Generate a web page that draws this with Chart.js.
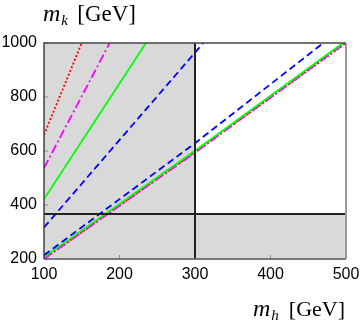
<!DOCTYPE html>
<html>
<head>
<meta charset="utf-8">
<script src="https://cdn.jsdelivr.net/npm/chart.js@4/dist/chart.umd.min.js"></script>
<style>
  body { margin: 0; background: #fff; }
  #wrap { width: 360px; height: 327px; }
</style>
</head>
<body>
<div id="wrap"><canvas id="c"></canvas></div>
<script>
// axis ticks
const xTicks = [100, 200, 300, 400, 500];
const yTicks = [200, 400, 600, 800, 1000];

// excluded region limits
const mhLimit = 300;
const mkLimit = 367;

// upper family of curves (x = m_h, y = m_k)
const redUpX = [100, 150];
const redUpY = [660, 1000];
const magUpX = [100, 187];
const magUpY = [537, 1000];
const greenUpX = [100, 235];
const greenUpY = [422, 1000];
const blueUpX = [100, 311];
const blueUpY = [317, 1000];

// lower family of curves
const blueLoX = [100, 300, 470];
const blueLoY = [214, 629, 1000];
const greenLoX = [100, 300, 496];
const greenLoY = [207, 601, 1000];
const magLoX = [100, 300, 499];
const magLoY = [201, 594, 1000];
const redLoX = [100, 300, 500];
const redLoY = [200, 596, 1000];

function pts(xs, ys) {
    return xs.map((x, i) => ({ x: x, y: ys[i] }));
}

function line(xs, ys, color, dash) {
    return {
        data: pts(xs, ys),
        borderColor: color,
        borderWidth: 1.8,
        borderDash: dash,
        pointRadius: 0,
        fill: false,
        tension: 0
    };
}

// gray shading, frame, limit lines and titles
const decor = {
    id: 'decor',
    beforeDatasetsDraw(chart) {
        const ctx = chart.ctx;
        const xs = chart.scales.x, ys = chart.scales.y;
        const a = chart.chartArea;
        const xl = xs.getPixelForValue(mhLimit);
        const yl = ys.getPixelForValue(mkLimit);
        ctx.save();
        ctx.fillStyle = '#d9d9d9';
        ctx.fillRect(a.left, a.top, xl - a.left, a.bottom - a.top);
        ctx.fillRect(xl, yl, a.right - xl, a.bottom - yl);
        // small inward ticks
        ctx.strokeStyle = '#888';
        ctx.lineWidth = 1;
        xTicks.forEach(v => {
            const p = xs.getPixelForValue(v);
            ctx.beginPath();
            ctx.moveTo(p, a.bottom);
            ctx.lineTo(p, a.bottom - 4);
            ctx.stroke();
        });
        yTicks.forEach(v => {
            const p = ys.getPixelForValue(v);
            ctx.beginPath();
            ctx.moveTo(a.left, p);
            ctx.lineTo(a.left + 4, p);
            ctx.stroke();
        });
        ctx.restore();
    },
    afterDatasetsDraw(chart) {
        const ctx = chart.ctx;
        const xs = chart.scales.x, ys = chart.scales.y;
        const a = chart.chartArea;
        const xl = xs.getPixelForValue(mhLimit);
        const yl = ys.getPixelForValue(mkLimit);
        ctx.save();
        ctx.strokeStyle = '#222';
        ctx.lineWidth = 2;
        ctx.beginPath();
        ctx.moveTo(xl, a.top);
        ctx.lineTo(xl, a.bottom);
        ctx.moveTo(a.left, yl);
        ctx.lineTo(a.right, yl);
        ctx.stroke();
        // frame
        ctx.lineWidth = 1.5;
        ctx.strokeStyle = '#444';
        ctx.beginPath();
        ctx.moveTo(a.left, a.bottom);
        ctx.lineTo(a.left, a.top);
        ctx.lineTo(a.right, a.top);
        ctx.stroke();
        ctx.strokeStyle = '#555';
        ctx.beginPath();
        ctx.moveTo(a.left, a.bottom);
        ctx.lineTo(a.right, a.bottom);
        ctx.stroke();
        ctx.strokeStyle = '#999';
        ctx.lineWidth = 2;
        ctx.beginPath();
        ctx.moveTo(a.right, a.top);
        ctx.lineTo(a.right, a.bottom);
        ctx.stroke();
        ctx.restore();
    },
    afterDraw(chart) {
        const ctx = chart.ctx;
        ctx.save();
        ctx.fillStyle = '#000';
        ctx.textBaseline = 'alphabetic';
        // y title
        ctx.textAlign = 'left';
        ctx.font = 'italic 24px "Liberation Serif"';
        ctx.fillText('m', 43, 21);
        let w = ctx.measureText('m').width;
        ctx.font = 'italic 15px "Liberation Serif"';
        ctx.fillText('k', 43 + w + 1, 25);
        ctx.font = '23px "Liberation Serif"';
        ctx.textAlign = 'right';
        ctx.fillText('[GeV]', 136, 21);
        // x title
        ctx.textAlign = 'left';
        ctx.font = 'italic 24px "Liberation Serif"';
        ctx.fillText('m', 253, 316);
        w = ctx.measureText('m').width;
        ctx.font = 'italic 15px "Liberation Serif"';
        ctx.fillText('h', 253 + w + 1, 320);
        ctx.font = '22px "Liberation Serif"';
        ctx.textAlign = 'right';
        ctx.fillText('[GeV]', 345, 316);
        ctx.restore();
    }
};

const tickFont = { family: '"Liberation Sans", Arial, sans-serif', size: 16 };

new Chart(document.getElementById('c'), {
    type: 'line',
    data: {
        datasets: [
            line(blueUpX, blueUpY, '#0000ff', [7, 4]),
            line(greenUpX, greenUpY, '#00ff00', []),
            line(magUpX, magUpY, '#ff00ff', [9, 3, 2, 3]),
            line(redUpX, redUpY, '#ff0000', [2, 2]),
            line(blueLoX, blueLoY, '#0000ff', [7, 4]),
            line(greenLoX, greenLoY, '#00ff00', []),
            line(magLoX, magLoY, '#ff00ff', [9, 3, 2, 3]),
            line(redLoX, redLoY, '#ff0000', [2, 2])
        ]
    },
    options: {
        responsive: true,
        maintainAspectRatio: false,
        animation: false,
        layout: { padding: { top: 43, right: 14, left: 0, bottom: 0 } },
        plugins: { legend: { display: false }, tooltip: { enabled: false } },
        scales: {
            x: {
                type: 'linear',
                min: 100,
                max: 500,
                afterBuildTicks: s => { s.ticks = xTicks.map(v => ({ value: v })); },
                afterFit: s => { s.height = 68; s.paddingLeft = 0; s.paddingRight = 0; },
                grid: { display: false, drawTicks: false },
                border: { display: false },
                ticks: { color: '#000', padding: 6, maxRotation: 0, font: tickFont, callback: v => String(v) }
            },
            y: {
                type: 'linear',
                min: 200,
                max: 1000,
                afterBuildTicks: s => { s.ticks = yTicks.map(v => ({ value: v })); },
                afterFit: s => { s.width = 44; s.paddingTop = 0; s.paddingBottom = 0; },
                grid: { display: false, drawTicks: false },
                border: { display: false },
                ticks: { color: '#000', padding: 7, font: tickFont, callback: v => String(v) }
            }
        }
    },
    plugins: [decor]
});
</script>
</body>
</html>
